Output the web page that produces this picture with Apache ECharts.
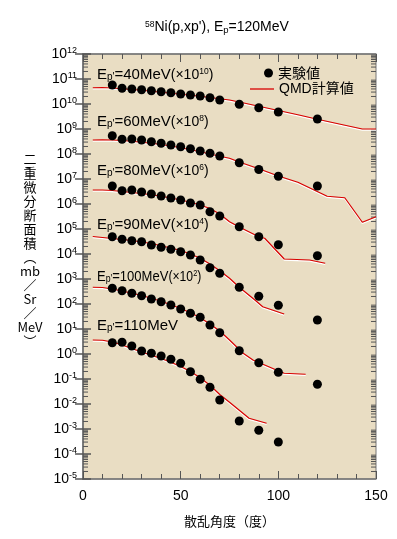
<!DOCTYPE html>
<html>
<head>
<meta charset="utf-8">
<script src="https://cdn.jsdelivr.net/npm/echarts@6/dist/echarts.min.js"></script>
<style>
  html, body { margin: 0; padding: 0; background: #fff; }
  #chart { width: 397px; height: 539px; }
</style>
</head>
<body>
<div id="chart"></div>
<script>
// 実験値の散乱角 (度)
const angles = [15, 20, 25, 30, 35, 40, 45, 50, 55, 60, 65, 70, 80, 90, 100, 120];
// 実験値 log10 (グラフから読み取り、倍率込み)
const exp40 = [10.76, 10.63, 10.60, 10.57, 10.53, 10.49, 10.45, 10.40, 10.36, 10.32, 10.25, 10.16, 9.99, 9.85, 9.68, 9.40];
const exp60 = [8.73, 8.59, 8.60, 8.56, 8.49, 8.43, 8.36, 8.29, 8.21, 8.12, 8.03, 7.92, 7.65, 7.38, 7.11, 6.72];
const exp80 = [6.72, 6.53, 6.56, 6.48, 6.40, 6.32, 6.24, 6.16, 6.04, 5.96, 5.69, 5.52, 5.09, 4.69, 4.37, 3.93];
const exp90 = [4.69, 4.59, 4.53, 4.49, 4.36, 4.27, 4.19, 4.09, 3.96, 3.76, 3.45, 3.23, 2.67, 2.31, 1.95, 1.36];
const exp100 = [2.63, 2.53, 2.43, 2.33, 2.20, 2.09, 1.96, 1.80, 1.63, 1.47, 1.16, 0.85, 0.13, -0.35, -0.73, -1.21];
const exp110 = [0.45, 0.47, 0.32, 0.12, 0.03, -0.08, -0.21, -0.37, -0.71, -1.01, -1.33, -1.84, -2.68, -3.05, -3.52, null];

// QMD計算値 log10
const qmd40Ang = [5, 10, 15, 20, 25, 30, 35, 40, 45, 50, 55, 60, 65, 70, 75, 80, 90, 100, 110, 120, 130, 143, 150];
const qmd40 = [10.65, 10.66, 10.64, 10.61, 10.58, 10.55, 10.51, 10.47, 10.43, 10.39, 10.35, 10.31, 10.26, 10.21, 10.16, 10.08, 9.91, 9.74, 9.57, 9.39, 9.22, 9.0, 9.0];
const qmd60Ang = [5, 10, 15, 20, 25, 30, 35, 40, 45, 50, 55, 60, 65, 70, 75, 80, 90, 100, 110, 125, 134, 143, 150];
const qmd60 = [8.56, 8.57, 8.56, 8.54, 8.51, 8.47, 8.43, 8.38, 8.32, 8.25, 8.17, 8.09, 8.00, 7.91, 7.83, 7.68, 7.41, 7.12, 6.87, 6.31, 6.25, 5.27, 5.49];
const qmd80Ang = [5, 10, 15, 20, 25, 30, 35, 40, 45, 50, 55, 60, 65, 70, 75, 80, 90, 93, 103, 116, 124];
const qmd80 = [6.56, 6.56, 6.54, 6.50, 6.46, 6.42, 6.37, 6.31, 6.24, 6.16, 6.07, 5.96, 5.82, 5.60, 5.29, 5.08, 4.69, 4.63, 3.80, 3.76, 3.63];
const qmd90Ang = [5, 10, 15, 20, 25, 30, 35, 40, 45, 50, 55, 60, 65, 70, 75, 80, 88, 92, 103];
const qmd90 = [4.70, 4.66, 4.62, 4.58, 4.54, 4.48, 4.42, 4.33, 4.24, 4.14, 4.00, 3.83, 3.60, 3.33, 3.03, 2.67, 2.16, 1.89, 1.60];
const qmd100Ang = [5, 10, 15, 20, 25, 30, 35, 40, 45, 50, 55, 60, 65, 70, 75, 82, 87, 99, 103, 114];
const qmd100 = [2.67, 2.66, 2.60, 2.52, 2.43, 2.34, 2.23, 2.11, 1.97, 1.82, 1.65, 1.45, 1.20, 0.92, 0.56, 0.03, -0.24, -0.64, -0.77, -0.81];
const qmd110Ang = [5, 10, 15, 20, 25, 30, 35, 40, 45, 50, 55, 60, 65, 70, 75, 80, 85, 94];
const qmd110 = [0.56, 0.55, 0.48, 0.36, 0.22, 0.08, -0.05, -0.18, -0.33, -0.50, -0.70, -0.95, -1.25, -1.62, -1.93, -2.25, -2.57, -2.77];

// ラベル
const energies = ['40', '60', '80', '90', '100', '110'];
const factors = ['10', '8', '6', '4', '2', null];

const latin = "'Liberation Sans', 'Noto Sans CJK JP', sans-serif";
const cjk = "'Noto Sans CJK JP', 'Liberation Sans', sans-serif";
const axisColor = '#777';
const tickColor = '#555';
const red = '#d80000';

function pts(xs, logs) {
  const out = [];
  logs.forEach((v, i) => { if (v != null) out.push([xs[i], Math.pow(10, v)]); });
  return out;
}

const expSets = [exp40, exp60, exp80, exp90, exp100, exp110];
const qmdSets = [[qmd40Ang, qmd40], [qmd60Ang, qmd60], [qmd80Ang, qmd80], [qmd90Ang, qmd90], [qmd100Ang, qmd100], [qmd110Ang, qmd110]];

// 対数目盛の補助目盛 (2..9 x 10^n)
const minorTicks = [];
for (let n = -5; n < 12; n++) {
  for (let k = 2; k < 10; k++) minorTicks.push([0, k * Math.pow(10, n)]);
}

let chart = echarts.init(document.getElementById('chart'));

const series = [];
series.push({
  type: 'custom',
  silent: true,
  clip: false,
  data: minorTicks,
  renderItem: function (params, api) {
    const v = api.value(1);
    const a = api.coord([0, v]);
    const b = api.coord([150, v]);
    const st = { stroke: tickColor, lineWidth: 1 };
    return {
      type: 'group',
      children: [
        { type: 'line', shape: { x1: a[0], y1: a[1], x2: a[0] + 5, y2: a[1] }, style: st },
        { type: 'line', shape: { x1: b[0] - 5, y1: b[1], x2: b[0], y2: b[1] }, style: st }
      ]
    };
  },
  z: 1
});
qmdSets.forEach(q => {
  series.push({
    name: 'QMD計算値',
    type: 'line',
    symbol: 'none',
    data: pts(q[0], q[1]),
    lineStyle: { color: red, width: 1.2, shadowColor: '#fff', shadowOffsetY: 1.2, shadowBlur: 0 },
    itemStyle: { color: red },
    z: 2
  });
});
expSets.forEach(e => {
  series.push({
    name: '実験値',
    type: 'scatter',
    symbol: 'circle',
    symbolSize: 9,
    data: pts(angles, e),
    itemStyle: { color: '#000', opacity: 1 },
    z: 3
  });
});

const labelY = [75, 122, 171, 225, 277, 326];
const labelSquash = [1, 1, 1, 1, 0.87, 1];
const labelRich = {
  n: { fontFamily: latin, fontSize: 15, color: '#000' },
  m: { fontFamily: latin, fontSize: 14, color: '#000' },
  s: { fontFamily: latin, fontSize: 10, color: '#000', verticalAlign: 'bottom', lineHeight: 14 },
  u: { fontFamily: latin, fontSize: 8.5, color: '#000', verticalAlign: 'top', lineHeight: 14 }
};
const graphics = energies.map((e, i) => {
  let t = '{n|E}{s|p\'}{n|=' + e + 'MeV}';
  if (factors[i]) t += '{m|(×10}{u|' + factors[i] + '}{m|)}';
  return {
    type: 'text', x: 97, y: labelY[i], scaleX: labelSquash[i], scaleY: 1,
    style: { text: t, rich: labelRich, verticalAlign: 'middle', align: 'left' },
    z: 10
  };
});
graphics.push({
  type: 'text', x: 30, y: 152,
  style: {
    text: '二\n重\n微\n分\n断\n面\n積\n︵\nmb\n／\nSr\n／\nMeV\n︶',
    font: '13px ' + cjk, lineHeight: 14, align: 'center', verticalAlign: 'top', fill: '#000'
  }
});

chart.setOption({
  backgroundColor: '#fff',
  animation: false,
  title: {
    text: '{sup|58}{n|Ni(p,xp\'), E}{sub|p}{n|=120MeV}',
    left: 140, top: 15,
    textStyle: {
      fontWeight: 'normal',
      rich: {
        n: { fontFamily: latin, fontSize: 14, fontWeight: 'normal', color: '#000' },
        sup: { fontFamily: latin, fontSize: 8.5, fontWeight: 'normal', color: '#000', verticalAlign: 'top', lineHeight: 15 },
        sub: { fontFamily: latin, fontSize: 9.5, fontWeight: 'normal', color: '#000', verticalAlign: 'bottom', lineHeight: 15 }
      }
    }
  },
  legend: [
    {
      data: [{ name: '実験値', icon: 'circle' }],
      left: 264, top: 66, padding: 0, itemWidth: 9, itemHeight: 9,
      itemStyle: { color: '#000', opacity: 1 },
      textStyle: { fontFamily: cjk, fontSize: 14, color: '#000' },
      selectedMode: false
    },
    {
      data: [{ name: 'QMD計算値', icon: 'rect' }],
      left: 250, top: 82, padding: 0, itemWidth: 24, itemHeight: 1.3,
      itemStyle: { color: red },
      textStyle: { fontFamily: latin, fontSize: 14, color: '#000' },
      selectedMode: false
    }
  ],
  grid: {
    left: 83, right: 21, top: 54, bottom: 60,
    show: true, backgroundColor: '#e9ddc3', borderColor: axisColor, borderWidth: 1
  },
  graphic: graphics,
  xAxis: [
    {
      type: 'value', position: 'bottom', min: 0, max: 150, interval: 50,
      axisLine: { lineStyle: { color: axisColor, width: 1.5 } },
      axisTick: { inside: true, length: 8, lineStyle: { color: tickColor } },
      minorTick: { show: true, splitNumber: 5, length: 5, lineStyle: { color: tickColor } },
      splitLine: { show: false },
      axisLabel: { fontFamily: latin, fontSize: 14, color: '#000', margin: 10 },
      name: '散乱角度（度）', nameLocation: 'middle', nameGap: 36,
      nameTextStyle: { fontFamily: cjk, fontSize: 13, color: '#000' }
    },
    {
      type: 'value', position: 'top', min: 0, max: 150, interval: 50,
      axisLine: { lineStyle: { color: axisColor, width: 1.5 } },
      axisTick: { inside: true, length: 8, lineStyle: { color: tickColor } },
      minorTick: { show: true, splitNumber: 5, length: 5, lineStyle: { color: tickColor } },
      splitLine: { show: false },
      axisLabel: { show: false }
    }
  ],
  yAxis: [
    {
      type: 'log', logBase: 10, position: 'left', min: 1e-5, max: 1e12, interval: 1,
      axisLine: { show: true, lineStyle: { color: axisColor, width: 1.5 } },
      axisTick: { show: true, inside: true, length: 8, lineStyle: { color: tickColor, width: 1.5 } },
      splitLine: { show: false },
      axisLabel: {
        margin: 6,
        formatter: function (v) {
          const n = Math.round(Math.log10(v));
          return '{b|10}{s|' + n + '}';
        },
        rich: {
          b: { fontFamily: latin, fontSize: 14, color: '#000', lineHeight: 16 },
          s: { fontFamily: latin, fontSize: 9, color: '#000', verticalAlign: 'top', lineHeight: 12 }
        }
      }
    },
    {
      type: 'log', logBase: 10, position: 'right', min: 1e-5, max: 1e12, interval: 1,
      axisLine: { show: true, lineStyle: { color: axisColor, width: 1.5 } },
      axisTick: { show: true, inside: true, length: 8, lineStyle: { color: tickColor, width: 1.5 } },
      splitLine: { show: false },
      axisLabel: { show: false }
    }
  ],
  series: series
});
</script>
</body>
</html>
